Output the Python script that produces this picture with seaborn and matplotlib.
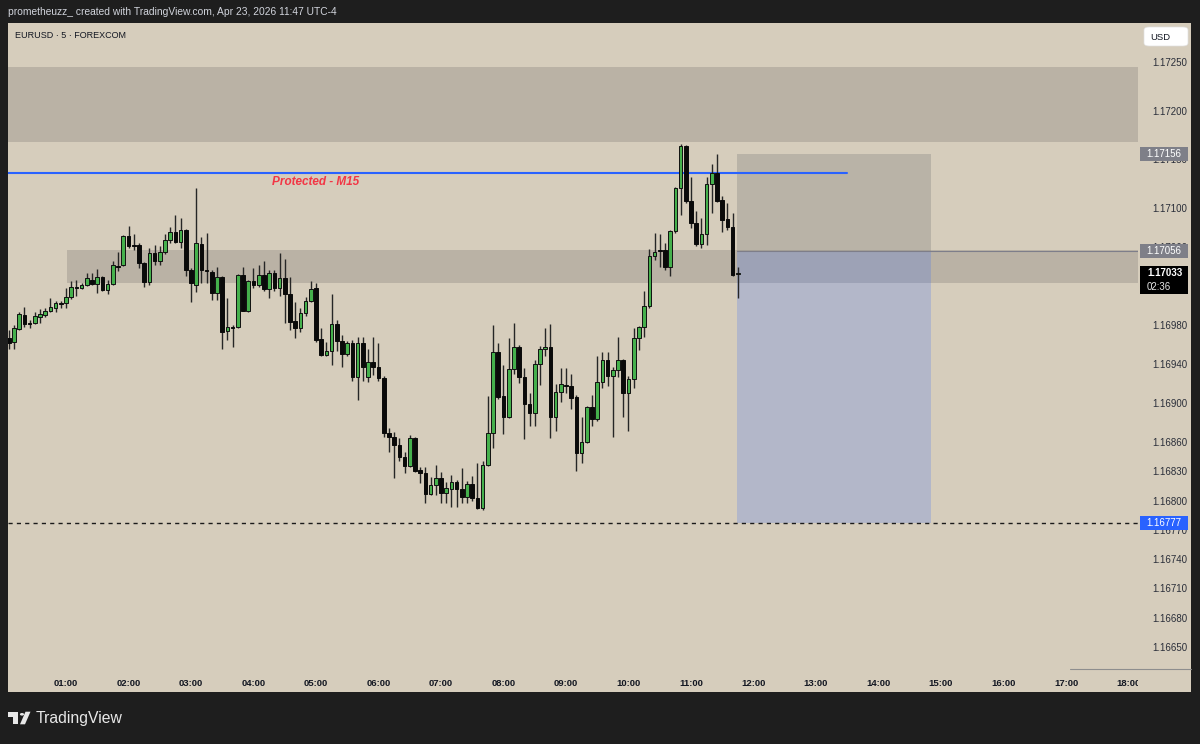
import numpy as np
import pandas as pd
import matplotlib
matplotlib.use("Agg")
import matplotlib.pyplot as plt
import seaborn as sns
from matplotlib.patches import Rectangle, FancyBboxPatch, Polygon, Circle

# ---------------- data (EURUSD 5m) ----------------
open_ = [
    1.16967, 1.16963, 1.16976, 1.16990, 1.16982, 1.16982, 1.16988, 1.16990, 1.16994, 1.16998,
    1.17003, 1.17003, 1.17009, 1.17019, 1.17018, 1.17021, 1.17026, 1.17022, 1.17029, 1.17016,
    1.17022, 1.17041, 1.17042, 1.17071, 1.17062, 1.17062, 1.17044, 1.17024, 1.17054, 1.17046,
    1.17055, 1.17067, 1.17076, 1.17065, 1.17078, 1.17037, 1.17021, 1.17063, 1.17037, 1.17035,
    1.17013, 1.17029, 1.16974, 1.16978, 1.16978, 1.17031, 1.16995, 1.17025, 1.17021, 1.17031,
    1.17017, 1.17034, 1.17018, 1.17028, 1.17012, 1.16984, 1.16977, 1.16992, 1.17005, 1.17018,
    1.16966, 1.16949, 1.16953, 1.16981, 1.16964, 1.16950, 1.16962, 1.16927, 1.16962, 1.16927,
    1.16942, 1.16937, 1.16926, 1.16869, 1.16865, 1.16857, 1.16845, 1.16835, 1.16864, 1.16831,
    1.16828, 1.16807, 1.16816, 1.16823, 1.16808, 1.16812, 1.16819, 1.16812, 1.16804, 1.16817,
    1.16803, 1.16792, 1.16836, 1.16869, 1.16952, 1.16907, 1.16886, 1.16935, 1.16958, 1.16927,
    1.16899, 1.16890, 1.16940, 1.16956, 1.16958, 1.16886, 1.16911, 1.16919, 1.16918, 1.16906,
    1.16849, 1.16860, 1.16896, 1.16884, 1.16922, 1.16944, 1.16928, 1.16934, 1.16944, 1.16910,
    1.16925, 1.16967, 1.16978, 1.17000, 1.17051, 1.17057, 1.17057, 1.17040, 1.17077, 1.17121,
    1.17164, 1.17107, 1.17085, 1.17063, 1.17074, 1.17125, 1.17136, 1.17108, 1.17089, 1.17081,
    1.17032]
high_ = [
    1.16975, 1.16980, 1.16993, 1.16999, 1.16985, 1.16993, 1.16997, 1.16998, 1.17008, 1.17005,
    1.17005, 1.17018, 1.17025, 1.17026, 1.17023, 1.17033, 1.17034, 1.17038, 1.17030, 1.17026,
    1.17046, 1.17055, 1.17072, 1.17082, 1.17073, 1.17064, 1.17045, 1.17059, 1.17062, 1.17061,
    1.17073, 1.17081, 1.17093, 1.17090, 1.17079, 1.17039, 1.17121, 1.17070, 1.17075, 1.17037,
    1.17040, 1.17030, 1.17008, 1.16980, 1.17032, 1.17040, 1.17026, 1.17039, 1.17042, 1.17046,
    1.17037, 1.17037, 1.17054, 1.17048, 1.17029, 1.17004, 1.16998, 1.17009, 1.17025, 1.17023,
    1.16977, 1.16963, 1.17012, 1.16985, 1.16970, 1.16964, 1.16965, 1.16968, 1.16968, 1.16955,
    1.16968, 1.16962, 1.16928, 1.16874, 1.16870, 1.16864, 1.16850, 1.16867, 1.16865, 1.16834,
    1.16834, 1.16824, 1.16837, 1.16829, 1.16819, 1.16826, 1.16821, 1.16833, 1.16820, 1.16825,
    1.16839, 1.16841, 1.16907, 1.16980, 1.16962, 1.16939, 1.16967, 1.16982, 1.16960, 1.16936,
    1.16910, 1.16944, 1.16959, 1.16977, 1.16981, 1.16920, 1.16936, 1.16936, 1.16930, 1.16908,
    1.16886, 1.16897, 1.16908, 1.16948, 1.16952, 1.16952, 1.16937, 1.16968, 1.16945, 1.16928,
    1.16977, 1.16979, 1.17015, 1.17058, 1.17075, 1.17074, 1.17064, 1.17078, 1.17122, 1.17166,
    1.17165, 1.17132, 1.17097, 1.17090, 1.17132, 1.17145, 1.17156, 1.17112, 1.17105, 1.17095,
    1.17040]
low_ = [
    1.16955, 1.16955, 1.16975, 1.16978, 1.16977, 1.16981, 1.16982, 1.16988, 1.16993, 1.16993,
    1.16998, 1.16998, 1.17007, 1.17010, 1.17017, 1.17020, 1.17021, 1.17013, 1.17015, 1.17012,
    1.17021, 1.17036, 1.17041, 1.17059, 1.17057, 1.17039, 1.17019, 1.17021, 1.17042, 1.17042,
    1.17053, 1.17064, 1.17064, 1.17059, 1.17030, 1.17004, 1.17014, 1.17023, 1.17023, 1.17006,
    1.17006, 1.16955, 1.16965, 1.16958, 1.16977, 1.16994, 1.16993, 1.17018, 1.17019, 1.17015,
    1.17008, 1.17015, 1.17010, 1.16982, 1.16975, 1.16967, 1.16973, 1.16989, 1.17004, 1.16963,
    1.16948, 1.16948, 1.16939, 1.16953, 1.16937, 1.16948, 1.16923, 1.16903, 1.16923, 1.16922,
    1.16929, 1.16923, 1.16865, 1.16850, 1.16823, 1.16841, 1.16828, 1.16834, 1.16829, 1.16818,
    1.16798, 1.16806, 1.16806, 1.16798, 1.16798, 1.16793, 1.16793, 1.16797, 1.16798, 1.16800,
    1.16791, 1.16790, 1.16835, 1.16854, 1.16904, 1.16868, 1.16885, 1.16930, 1.16921, 1.16863,
    1.16877, 1.16877, 1.16919, 1.16948, 1.16864, 1.16871, 1.16901, 1.16910, 1.16894, 1.16830,
    1.16839, 1.16859, 1.16877, 1.16882, 1.16916, 1.16918, 1.16865, 1.16927, 1.16886, 1.16871,
    1.16916, 1.16954, 1.16968, 1.16998, 1.17047, 1.17040, 1.17037, 1.17030, 1.17075, 1.17093,
    1.17105, 1.17080, 1.17061, 1.17059, 1.17062, 1.17095, 1.17106, 1.17076, 1.17078, 1.17030,
    1.17008]
close_ = [
    1.16962, 1.16977, 1.16991, 1.16981, 1.16981, 1.16989, 1.16991, 1.16995, 1.16999, 1.17003,
    1.17002, 1.17009, 1.17019, 1.17018, 1.17021, 1.17028, 1.17022, 1.17029, 1.17016, 1.17022,
    1.17042, 1.17040, 1.17071, 1.17061, 1.17061, 1.17044, 1.17024, 1.17054, 1.17046, 1.17055,
    1.17067, 1.17076, 1.17065, 1.17078, 1.17037, 1.17023, 1.17064, 1.17037, 1.17036, 1.17013,
    1.17029, 1.16973, 1.16978, 1.16977, 1.17031, 1.16995, 1.17025, 1.17021, 1.17031, 1.17017,
    1.17034, 1.17018, 1.17028, 1.17012, 1.16983, 1.16977, 1.16992, 1.17005, 1.17017, 1.16965,
    1.16949, 1.16953, 1.16981, 1.16964, 1.16950, 1.16962, 1.16927, 1.16962, 1.16937, 1.16942,
    1.16937, 1.16926, 1.16869, 1.16865, 1.16857, 1.16845, 1.16835, 1.16864, 1.16830, 1.16828,
    1.16807, 1.16816, 1.16823, 1.16808, 1.16813, 1.16819, 1.16812, 1.16804, 1.16817, 1.16803,
    1.16792, 1.16837, 1.16869, 1.16952, 1.16906, 1.16886, 1.16935, 1.16958, 1.16927, 1.16899,
    1.16890, 1.16940, 1.16956, 1.16958, 1.16886, 1.16911, 1.16920, 1.16918, 1.16905, 1.16849,
    1.16860, 1.16896, 1.16884, 1.16922, 1.16944, 1.16928, 1.16934, 1.16944, 1.16910, 1.16925,
    1.16967, 1.16978, 1.17000, 1.17051, 1.17055, 1.17056, 1.17040, 1.17077, 1.17121, 1.17164,
    1.17107, 1.17085, 1.17063, 1.17074, 1.17125, 1.17136, 1.17107, 1.17088, 1.17081, 1.17031,
    1.17033]
times = pd.date_range("2026-04-23 00:05", periods=len(open_), freq="5min")

price_ticks = [1.17250, 1.17200, 1.17150, 1.17100, 1.17060, 1.16980, 1.16940,
               1.16900, 1.16860, 1.16830, 1.16800, 1.16770, 1.16740, 1.16710, 1.16680, 1.16650]
hour_ticks = list(range(1, 19))
hour_labels = [f"{h:02d}:00" for h in hour_ticks]

upper_zone = (1.17168, 1.17245)
mid_zone = (1.17023, 1.17057)
mid_zone_start = "01:01"
protected_level = 1.17136
protected_end = "13:30"
protected_text = "Protected - M15"
entry_price, stop_price, target_price = 1.17056, 1.17156, 1.16777
position_span = ("11:44", "14:50")
last_price, countdown = 1.17033, "02:36"
header = "prometheuzz_ created with TradingView.com, Apr 23, 2026 11:47 UTC-4"
symbol = "EURUSD · 5 · FOREXCOM"

# ---------------- style ----------------
sns.set_theme(style="white")
plt.rcParams['font.family'] = ['Liberation Sans', 'DejaVu Sans']

W, H = 1200, 744
BG = '#1E1E1E'
BEIGE = '#D6CDBC'
INK = '#131722'
GREEN = '#45B04C'

fig = plt.figure(figsize=(W / 100, H / 100), dpi=100)
fig.patch.set_facecolor(BG)

def fx(px):
    return px / W

def fy(py):
    return 1 - py / H

def hours(hhmm):
    hh, mm = hhmm.split(":")
    return int(hh) + int(mm) / 60

# beige panel (chart + axes scales)
fig.add_artist(Rectangle((fx(8), fy(692)), fx(1191 - 8), (692 - 23) / H,
                         transform=fig.transFigure, facecolor=BEIGE, edgecolor='none', zorder=-1))

ax = fig.add_axes([fx(8), fy(668), fx(1138 - 8), (668 - 23) / H])
ax.set_facecolor(BEIGE)
for s in ax.spines.values():
    s.set_visible(False)

df = pd.DataFrame({"time": times, "open": open_, "high": high_, "low": low_, "close": close_})
df["t"] = (df["time"] - df["time"].dt.normalize()).dt.total_seconds() / 3600
df["up"] = df["close"] >= df["open"]

xmin, xmax = 0.072, 18.152
ax.set_xlim(xmin, xmax)
ax.set_ylim(1.166282, 1.172900)

# zones
ax.add_patch(Rectangle((xmin, upper_zone[0]), xmax - xmin, upper_zone[1] - upper_zone[0],
                       facecolor='#7A7570', alpha=0.30, lw=0, zorder=1))
zs = hours(mid_zone_start)
ax.add_patch(Rectangle((zs, mid_zone[0]), xmax - zs, mid_zone[1] - mid_zone[0],
                       facecolor='#7A7570', alpha=0.30, lw=0, zorder=1))

# position tool
p0, p1 = hours(position_span[0]), hours(position_span[1])
ax.add_patch(Rectangle((p0, entry_price), p1 - p0, stop_price - entry_price,
                       facecolor='#787878', alpha=0.30, lw=0, zorder=1.5))
ax.add_patch(Rectangle((p0, target_price), p1 - p0, entry_price - target_price,
                       facecolor='#2962FF', alpha=0.20, lw=0, zorder=1.5))
ax.plot([p0, xmax], [entry_price, entry_price], color='#7E7E8A', lw=0.8, zorder=1.6)

# protected line + label
ax.plot([xmin, hours(protected_end)], [protected_level, protected_level],
        color='#2962FF', lw=1.5, zorder=2)
ax.text(5.0, protected_level - 0.00009, protected_text, color='#F23645', fontsize=8.5,
        fontweight='bold', fontstyle='italic', ha='center', va='center', zorder=2)

# target dashed line
ax.axhline(target_price, color='#1A1A1A', lw=1.0, ls=(0, (3, 3)), zorder=2)

# candles
bw = 0.058
ax.vlines(df["t"], df["low"], df["high"], color='#262626', lw=1.0, zorder=3)
up = df[df["up"]]
dn = df[~df["up"]]
ax.bar(up["t"], up["close"] - up["open"], bottom=up["open"], width=bw,
       color=GREEN, edgecolor='#101010', lw=0.7, zorder=4)
ax.bar(dn["t"], dn["open"] - dn["close"], bottom=dn["close"], width=bw,
       color='#0A0A0A', edgecolor='#0A0A0A', lw=0.7, zorder=4)

# axes ticks
ax.yaxis.tick_right()
ax.set_yticks(price_ticks)
ax.set_yticklabels([f"{v:.5f}" for v in price_ticks])
ax.tick_params(axis='y', length=0, pad=10, labelsize=7, labelcolor='#2A2E39')
ax.set_xticks(hour_ticks)
ax.set_xticklabels(hour_labels)
ax.tick_params(axis='x', length=0, pad=8, labelsize=6.8, labelcolor=INK)
for lb in ax.get_xticklabels():
    lb.set_fontweight('bold')
ax.grid(False)

# cover of time-scale under price scale
fig.add_artist(Rectangle((fx(1138), fy(692)), fx(1191 - 1138), (692 - 669) / H,
                         transform=fig.transFigure, facecolor=BEIGE, edgecolor='none', zorder=1))
fig.add_artist(plt.Line2D([fx(1070), fx(1191)], [fy(668.5), fy(668.5)], transform=fig.transFigure,
                          color='#8E8E8E', lw=0.8, zorder=2))

# price labels on scale
fig.canvas.draw()

def ypx(price):
    return H - ax.transData.transform((0, price))[1]

def scale_label(price, text, fc, tc='white', weight='normal'):
    yc = ypx(price)
    fig.add_artist(Rectangle((fx(1140), fy(yc + 7)), fx(48), 14 / H, transform=fig.transFigure,
                             facecolor=fc, edgecolor='none', zorder=5))
    fig.text(fx(1164), fy(yc), text, color=tc, fontsize=7, ha='center', va='center',
             fontweight=weight, zorder=6)

scale_label(stop_price, f"{stop_price:.5f}", '#7E7F88')
scale_label(entry_price, f"{entry_price:.5f}", '#7E7F88')
scale_label(target_price, f"{target_price:.5f}", '#2962FF')
yl = ypx(last_price)
fig.add_artist(Rectangle((fx(1140), fy(yl + 21)), fx(48), 28 / H, transform=fig.transFigure,
                         facecolor='#000000', edgecolor='none', zorder=5))
fig.text(fx(1147), fy(yl), f"{last_price:.5f}", color='white', fontsize=7, ha='left',
         va='center', fontweight='bold', zorder=6)
fig.text(fx(1147), fy(yl + 14), countdown, color='#E6E6E6', fontsize=7, ha='left',
         va='center', zorder=6)

# USD button
fig.add_artist(FancyBboxPatch((fx(1144), fy(46)), fx(44), 19 / H,
                              boxstyle="round,pad=0,rounding_size=0.004",
                              transform=fig.transFigure, facecolor='white', edgecolor='#E0E0E0',
                              lw=0.5, zorder=5))
fig.text(fx(1150), fy(37), "USD", color=INK, fontsize=6.8, ha='left', va='center', zorder=6)

# header & symbol
fig.text(fx(8), fy(12), header, color='#D1D4DC', fontsize=7.4, ha='left', va='center')
fig.text(fx(15), fy(35), symbol, color=INK, fontsize=6.5, ha='left', va='center', zorder=6)

# TradingView logo
lc = '#E8E8E8'
fig.add_artist(Polygon([(fx(8.3), fy(711.7)), (fx(18.3), fy(711.7)), (fx(18.3), fy(724.3)),
                        (fx(13.3), fy(724.3)), (fx(13.3), fy(716.7)), (fx(8.3), fy(716.7))],
                       closed=True, transform=fig.transFigure, facecolor=lc, edgecolor='none'))
fig.add_artist(Circle((fx(22), fy(714.3)), 2.1 / W, transform=fig.transFigure,
                      facecolor=lc, edgecolor='none'))
fig.add_artist(Polygon([(fx(20), fy(724.3)), (fx(25), fy(724.3)), (fx(30.5), fy(711.7)),
                        (fx(25.5), fy(711.7))], closed=True, transform=fig.transFigure,
                       facecolor=lc, edgecolor='none'))
fig.text(fx(36), fy(718), "TradingView", color=lc, fontsize=11.3, ha='left', va='center')

fig.savefig("out.png", dpi=100, facecolor=fig.get_facecolor())
